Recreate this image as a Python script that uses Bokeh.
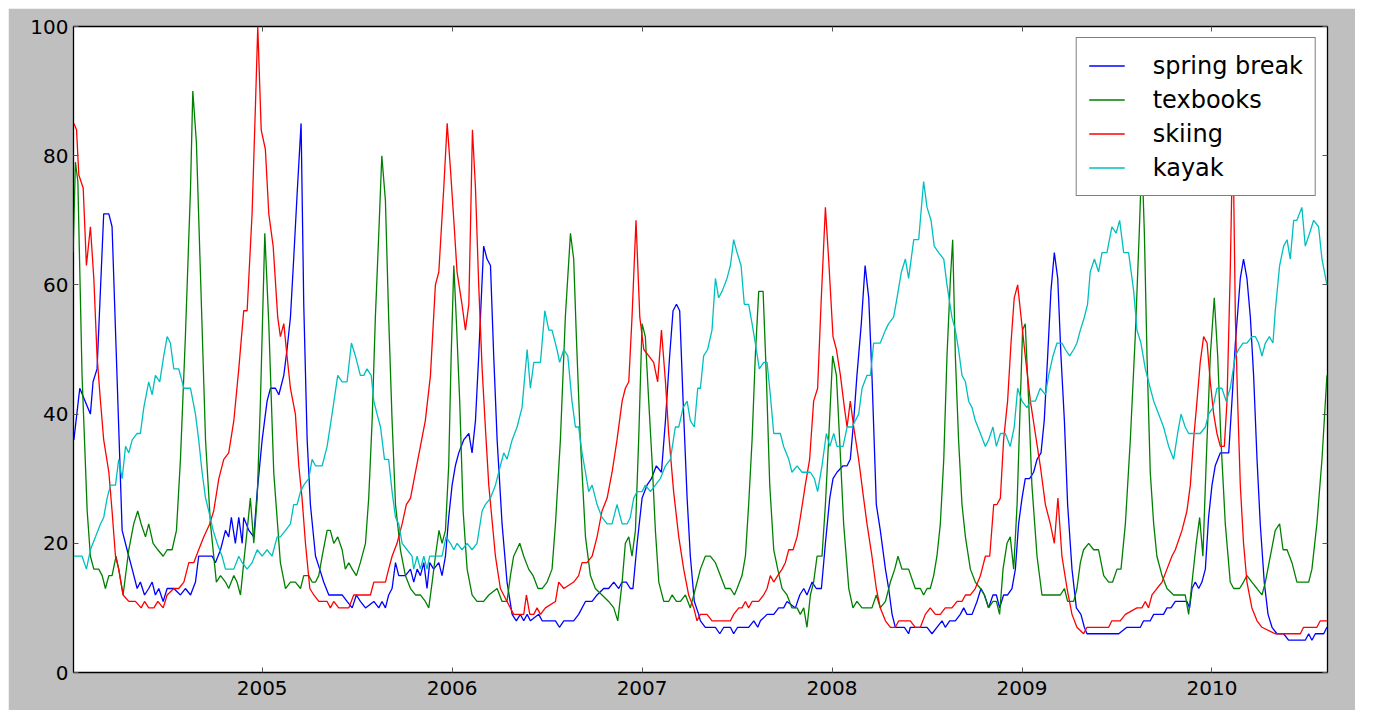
from bokeh.plotting import figure
from bokeh.models import FixedTicker, LinearAxis, Range1d
from bokeh.embed import file_html
from bokeh.resources import INLINE

# ---------------- data (decimal year, weekly search index) ----------------
spring_break_year = [2004.009, 2004.040, 2004.096, 2004.110, 2004.131, 2004.166, 2004.193, 2004.210, 2004.263, 2004.289,
    2004.316, 2004.342, 2004.359, 2004.381, 2004.403, 2004.421, 2004.438, 2004.456, 2004.479, 2004.500, 2004.535, 2004.570,
    2004.596, 2004.623, 2004.649, 2004.666, 2004.737, 2004.754, 2004.781, 2004.807, 2004.824, 2004.838, 2004.859, 2004.877,
    2004.895, 2004.903, 2004.930, 2004.956, 2004.974, 2005.000, 2005.026, 2005.044, 2005.070, 2005.088, 2005.114, 2005.131,
    2005.149, 2005.166, 2005.184, 2005.205, 2005.219, 2005.237, 2005.254, 2005.281, 2005.303, 2005.324, 2005.351, 2005.421,
    2005.447, 2005.474, 2005.496, 2005.517, 2005.544, 2005.588, 2005.614, 2005.631, 2005.649, 2005.666, 2005.684, 2005.702,
    2005.719, 2005.754, 2005.781, 2005.798, 2005.816, 2005.833, 2005.851, 2005.868, 2005.882, 2005.903, 2005.930, 2005.947,
    2005.965, 2005.982, 2006.000, 2006.017, 2006.035, 2006.061, 2006.088, 2006.105, 2006.123, 2006.140, 2006.166, 2006.184,
    2006.202, 2006.219, 2006.237, 2006.263, 2006.289, 2006.316, 2006.338, 2006.359, 2006.377, 2006.395, 2006.412, 2006.456,
    2006.474, 2006.544, 2006.565, 2006.588, 2006.640, 2006.666, 2006.702, 2006.737, 2006.763, 2006.798, 2006.824, 2006.851,
    2006.877, 2006.895, 2006.917, 2006.938, 2006.952, 2006.974, 2007.000, 2007.026, 2007.049, 2007.075, 2007.102, 2007.123,
    2007.145, 2007.163, 2007.181, 2007.198, 2007.216, 2007.237, 2007.254, 2007.275, 2007.298, 2007.307, 2007.333, 2007.386,
    2007.409, 2007.430, 2007.465, 2007.482, 2007.503, 2007.561, 2007.588, 2007.609, 2007.623, 2007.658, 2007.693, 2007.719,
    2007.745, 2007.763, 2007.807, 2007.830, 2007.851, 2007.868, 2007.895, 2007.917, 2007.944, 2007.965, 2007.988, 2008.005,
    2008.026, 2008.058, 2008.079, 2008.096, 2008.114, 2008.131, 2008.154, 2008.174, 2008.193, 2008.210, 2008.233, 2008.254,
    2008.281, 2008.298, 2008.316, 2008.333, 2008.381, 2008.403, 2008.412, 2008.500, 2008.526, 2008.552, 2008.579, 2008.596,
    2008.619, 2008.649, 2008.675, 2008.693, 2008.710, 2008.737, 2008.763, 2008.784, 2008.802, 2008.824, 2008.847, 2008.865,
    2008.882, 2008.903, 2008.924, 2008.947, 2008.965, 2008.982, 2009.000, 2009.017, 2009.040, 2009.061, 2009.079, 2009.100,
    2009.117, 2009.135, 2009.152, 2009.170, 2009.188, 2009.205, 2009.223, 2009.240, 2009.263, 2009.286, 2009.310, 2009.328,
    2009.342, 2009.509, 2009.552, 2009.623, 2009.640, 2009.675, 2009.693, 2009.745, 2009.763, 2009.784, 2009.807, 2009.868,
    2009.882, 2009.895, 2009.912, 2009.930, 2009.947, 2009.965, 2009.982, 2010.000, 2010.017, 2010.044, 2010.088, 2010.105,
    2010.123, 2010.149, 2010.166, 2010.184, 2010.202, 2010.219, 2010.237, 2010.254, 2010.275, 2010.295, 2010.316, 2010.342,
    2010.377, 2010.403, 2010.491, 2010.509, 2010.526, 2010.544, 2010.588, 2010.605]
spring_break = [36, 44, 40, 45, 47, 71, 71, 69, 22, 19,
    16, 13, 14, 12, 13, 14, 12, 13, 11, 13, 13, 12,
    13, 12, 14, 18, 18, 17, 19, 22, 21, 24, 20, 24,
    20, 24, 22, 21, 28, 36, 42, 44, 44, 43, 46, 50,
    55, 64, 74, 85, 57, 36, 26, 18, 16, 14, 12, 12,
    11, 10, 12, 11, 10, 11, 10, 11, 10, 12, 13, 17,
    15, 15, 16, 14, 16, 15, 17, 13, 17, 16, 17, 15,
    18, 24, 29, 32, 34, 36, 37, 34, 39, 49, 66, 64,
    63, 49, 36, 23, 14, 9, 8, 9, 8, 9, 8, 9,
    8, 8, 7, 8, 8, 9, 11, 11, 12, 13, 13, 14,
    13, 14, 14, 13, 13, 20, 27, 29, 30, 32, 31, 39,
    49, 56, 57, 56, 42, 27, 18, 11, 9, 8, 7, 7,
    6, 7, 7, 6, 7, 7, 8, 7, 8, 9, 9, 10,
    10, 11, 10, 12, 13, 12, 14, 13, 13, 20, 27, 30,
    31, 32, 32, 33, 39, 46, 54, 63, 58, 46, 26, 22,
    16, 13, 9, 7, 7, 6, 7, 7, 6, 7, 8, 7,
    8, 8, 9, 10, 9, 9, 11, 13, 12, 10, 12, 12,
    10, 12, 12, 13, 16, 23, 27, 30, 30, 31, 33, 34,
    39, 49, 59, 65, 61, 49, 39, 26, 16, 10, 9, 7,
    6, 6, 7, 7, 8, 8, 9, 9, 10, 10, 11, 11,
    10, 13, 14, 13, 14, 16, 24, 29, 32, 34, 34, 42,
    51, 61, 64, 61, 55, 46, 33, 23, 14, 9, 7, 6,
    6, 5, 5, 6, 5, 6, 6, 7]

texbooks_year = [2004.005, 2004.017, 2004.030, 2004.052, 2004.079, 2004.096, 2004.114, 2004.140, 2004.158, 2004.175,
    2004.193, 2004.210, 2004.231, 2004.245, 2004.268, 2004.298, 2004.324, 2004.345, 2004.363, 2004.386, 2004.403, 2004.426,
    2004.451, 2004.479, 2004.500, 2004.526, 2004.549, 2004.570, 2004.596, 2004.623, 2004.635, 2004.654, 2004.675, 2004.702,
    2004.728, 2004.759, 2004.781, 2004.807, 2004.824, 2004.851, 2004.868, 2004.886, 2004.903, 2004.921, 2004.938, 2004.956,
    2004.974, 2004.991, 2005.014, 2005.035, 2005.061, 2005.096, 2005.123, 2005.149, 2005.175, 2005.202, 2005.219, 2005.245,
    2005.263, 2005.281, 2005.298, 2005.316, 2005.342, 2005.359, 2005.377, 2005.398, 2005.421, 2005.438, 2005.456, 2005.474,
    2005.496, 2005.517, 2005.544, 2005.561, 2005.579, 2005.596, 2005.614, 2005.630, 2005.649, 2005.666, 2005.684, 2005.702,
    2005.728, 2005.754, 2005.781, 2005.807, 2005.833, 2005.859, 2005.877, 2005.895, 2005.912, 2005.931, 2005.947, 2005.965,
    2005.982, 2005.995, 2006.009, 2006.023, 2006.040, 2006.058, 2006.079, 2006.105, 2006.131, 2006.166, 2006.193, 2006.237,
    2006.263, 2006.289, 2006.307, 2006.324, 2006.356, 2006.377, 2006.403, 2006.426, 2006.452, 2006.474, 2006.500, 2006.526,
    2006.544, 2006.570, 2006.596, 2006.623, 2006.640, 2006.654, 2006.675, 2006.702, 2006.728, 2006.754, 2006.789, 2006.824,
    2006.851, 2006.872, 2006.895, 2006.912, 2006.930, 2006.947, 2006.965, 2006.982, 2007.000, 2007.017, 2007.035, 2007.052,
    2007.070, 2007.088, 2007.114, 2007.140, 2007.158, 2007.181, 2007.202, 2007.228, 2007.254, 2007.281, 2007.307, 2007.333,
    2007.359, 2007.386, 2007.412, 2007.438, 2007.465, 2007.486, 2007.500, 2007.526, 2007.544, 2007.561, 2007.579, 2007.596,
    2007.614, 2007.637, 2007.654, 2007.672, 2007.693, 2007.714, 2007.737, 2007.763, 2007.789, 2007.816, 2007.833, 2007.851,
    2007.868, 2007.886, 2007.903, 2007.921, 2007.947, 2007.965, 2007.982, 2008.003, 2008.023, 2008.040, 2008.061, 2008.088,
    2008.110, 2008.131, 2008.158, 2008.210, 2008.233, 2008.254, 2008.281, 2008.307, 2008.330, 2008.347, 2008.368, 2008.403,
    2008.438, 2008.465, 2008.482, 2008.500, 2008.517, 2008.535, 2008.552, 2008.570, 2008.588, 2008.605, 2008.623, 2008.635,
    2008.649, 2008.666, 2008.684, 2008.702, 2008.728, 2008.754, 2008.781, 2008.802, 2008.824, 2008.847, 2008.865, 2008.882,
    2008.900, 2008.921, 2008.938, 2008.956, 2008.974, 2008.991, 2009.003, 2009.017, 2009.035, 2009.052, 2009.079, 2009.105,
    2009.131, 2009.202, 2009.223, 2009.240, 2009.272, 2009.289, 2009.307, 2009.324, 2009.351, 2009.377, 2009.403, 2009.430,
    2009.456, 2009.477, 2009.500, 2009.521, 2009.544, 2009.570, 2009.596, 2009.617, 2009.631, 2009.644, 2009.658, 2009.675,
    2009.693, 2009.710, 2009.737, 2009.763, 2009.798, 2009.859, 2009.877, 2009.895, 2009.917, 2009.935, 2009.952, 2009.970,
    2009.991, 2010.012, 2010.030, 2010.047, 2010.070, 2010.096, 2010.114, 2010.131, 2010.145, 2010.166, 2010.184, 2010.210,
    2010.237, 2010.263, 2010.281, 2010.307, 2010.333, 2010.356, 2010.374, 2010.395, 2010.421, 2010.447, 2010.509, 2010.526,
    2010.552, 2010.579, 2010.605]
texbooks = [65, 79, 76, 46, 25, 18, 16, 16, 15, 13,
    15, 15, 18, 16, 12, 19, 23, 25, 23, 21, 23, 20,
    19, 18, 19, 19, 22, 33, 52, 75, 90, 82, 62, 36,
    23, 14, 15, 14, 13, 15, 14, 12, 17, 22, 27, 20,
    27, 42, 68, 54, 31, 17, 13, 14, 14, 13, 15, 15,
    14, 14, 15, 18, 22, 22, 20, 21, 19, 16, 17, 16,
    15, 17, 20, 27, 39, 55, 68, 80, 73, 55, 39, 26,
    19, 15, 13, 12, 12, 11, 10, 14, 18, 22, 20, 22,
    32, 49, 63, 54, 42, 25, 16, 12, 11, 11, 12, 13,
    11, 11, 15, 18, 20, 18, 16, 15, 13, 13, 14, 16,
    23, 36, 55, 68, 64, 52, 36, 21, 15, 13, 12, 11,
    10, 8, 14, 20, 21, 18, 22, 36, 54, 52, 42, 33,
    22, 14, 11, 11, 12, 11, 11, 12, 10, 13, 16, 18,
    18, 17, 15, 13, 13, 12, 13, 15, 18, 26, 36, 49,
    59, 59, 46, 29, 19, 16, 13, 12, 10, 10, 9, 10,
    7, 12, 14, 18, 18, 26, 36, 49, 46, 36, 23, 13,
    10, 11, 10, 10, 12, 10, 11, 14, 16, 18, 16, 16,
    13, 13, 12, 13, 13, 15, 18, 23, 33, 49, 61, 67,
    49, 36, 26, 21, 16, 14, 13, 12, 10, 11, 11, 9,
    16, 20, 21, 16, 26, 42, 53, 54, 42, 29, 18, 12,
    12, 12, 13, 11, 11, 13, 17, 19, 20, 19, 19, 15,
    14, 14, 16, 16, 23, 36, 52, 68, 80, 68, 49, 31,
    23, 18, 15, 13, 12, 12, 9, 14, 20, 24, 18, 33,
    49, 58, 49, 36, 23, 14, 13, 13, 13, 14, 15, 14,
    13, 12, 14, 18, 22, 23, 19, 19, 17, 14, 14, 16,
    23, 33, 46]

skiing_year = [2004.009, 2004.023, 2004.035, 2004.058, 2004.075, 2004.096, 2004.114, 2004.131, 2004.149, 2004.166,
    2004.193, 2004.210, 2004.228, 2004.245, 2004.268, 2004.298, 2004.333, 2004.363, 2004.381, 2004.403, 2004.430, 2004.451,
    2004.479, 2004.500, 2004.535, 2004.561, 2004.588, 2004.614, 2004.640, 2004.666, 2004.693, 2004.724, 2004.745, 2004.772,
    2004.798, 2004.824, 2004.851, 2004.877, 2004.903, 2004.921, 2004.947, 2004.965, 2004.977, 2004.995, 2005.017, 2005.035,
    2005.058, 2005.082, 2005.096, 2005.114, 2005.131, 2005.149, 2005.175, 2005.193, 2005.210, 2005.228, 2005.251, 2005.272,
    2005.298, 2005.342, 2005.359, 2005.377, 2005.403, 2005.456, 2005.482, 2005.544, 2005.570, 2005.588, 2005.649, 2005.666,
    2005.684, 2005.710, 2005.737, 2005.759, 2005.781, 2005.807, 2005.833, 2005.859, 2005.886, 2005.912, 2005.930, 2005.956,
    2005.974, 2005.991, 2006.009, 2006.026, 2006.052, 2006.070, 2006.088, 2006.096, 2006.107, 2006.123, 2006.140, 2006.158,
    2006.175, 2006.193, 2006.228, 2006.254, 2006.289, 2006.324, 2006.351, 2006.377, 2006.391, 2006.409, 2006.430, 2006.447,
    2006.465, 2006.491, 2006.544, 2006.561, 2006.588, 2006.640, 2006.666, 2006.684, 2006.710, 2006.737, 2006.763, 2006.789,
    2006.816, 2006.842, 2006.868, 2006.895, 2006.912, 2006.930, 2006.947, 2006.968, 2006.988, 2007.009, 2007.035, 2007.061,
    2007.082, 2007.102, 2007.123, 2007.140, 2007.166, 2007.193, 2007.219, 2007.245, 2007.272, 2007.289, 2007.307, 2007.342,
    2007.368, 2007.465, 2007.482, 2007.509, 2007.526, 2007.544, 2007.561, 2007.579, 2007.614, 2007.640, 2007.658, 2007.675,
    2007.693, 2007.714, 2007.737, 2007.754, 2007.772, 2007.795, 2007.816, 2007.833, 2007.859, 2007.882, 2007.903, 2007.924,
    2007.942, 2007.965, 2007.982, 2008.005, 2008.023, 2008.044, 2008.065, 2008.079, 2008.096, 2008.114, 2008.140, 2008.166,
    2008.184, 2008.210, 2008.233, 2008.254, 2008.281, 2008.307, 2008.333, 2008.351, 2008.412, 2008.438, 2008.465, 2008.491,
    2008.517, 2008.544, 2008.570, 2008.596, 2008.631, 2008.658, 2008.684, 2008.702, 2008.728, 2008.754, 2008.781, 2008.807,
    2008.830, 2008.851, 2008.868, 2008.886, 2008.903, 2008.924, 2008.942, 2008.959, 2008.977, 2008.995, 2009.017, 2009.044,
    2009.070, 2009.096, 2009.123, 2009.149, 2009.170, 2009.189, 2009.210, 2009.237, 2009.263, 2009.289, 2009.324, 2009.342,
    2009.456, 2009.473, 2009.517, 2009.544, 2009.605, 2009.631, 2009.649, 2009.666, 2009.684, 2009.710, 2009.737, 2009.763,
    2009.789, 2009.807, 2009.842, 2009.868, 2009.886, 2009.903, 2009.921, 2009.938, 2009.956, 2009.974, 2009.991, 2010.009,
    2010.026, 2010.044, 2010.065, 2010.079, 2010.096, 2010.110, 2010.123, 2010.135, 2010.149, 2010.166, 2010.184, 2010.210,
    2010.237, 2010.263, 2010.333, 2010.465, 2010.482, 2010.552, 2010.570, 2010.605]
skiing = [85, 84, 77, 75, 63, 69, 61, 49, 42, 36,
    31, 25, 18, 16, 12, 11, 11, 10, 11, 10, 10, 11,
    10, 12, 13, 13, 14, 17, 17, 19, 21, 23, 25, 30,
    33, 34, 39, 47, 56, 56, 71, 88, 100, 84, 81, 71,
    66, 55, 52, 54, 49, 44, 40, 32, 27, 20, 13, 12,
    11, 11, 10, 11, 10, 10, 12, 12, 12, 14, 14, 16,
    18, 20, 23, 26, 27, 31, 35, 39, 46, 60, 62, 75,
    85, 78, 70, 62, 57, 53, 57, 68, 84, 75, 60, 47,
    38, 29, 18, 13, 11, 9, 9, 9, 12, 9, 9, 10,
    9, 10, 11, 14, 13, 14, 15, 17, 17, 18, 21, 25,
    27, 31, 36, 42, 44, 45, 55, 70, 55, 50, 49, 48,
    45, 53, 45, 37, 28, 21, 16, 12, 10, 8, 9, 9,
    8, 8, 9, 10, 10, 11, 10, 11, 11, 12, 13, 15,
    14, 15, 16, 17, 19, 19, 21, 24, 29, 33, 42, 44,
    57, 72, 64, 52, 50, 46, 41, 38, 42, 38, 33, 27,
    23, 18, 13, 10, 8, 7, 7, 8, 8, 7, 7, 9,
    10, 9, 9, 10, 10, 11, 11, 12, 12, 13, 15, 18,
    18, 26, 26, 27, 36, 42, 51, 58, 60, 55, 49, 42,
    37, 32, 26, 23, 20, 27, 18, 13, 9, 7, 6, 7,
    7, 8, 8, 9, 10, 10, 11, 10, 12, 13, 14, 16,
    18, 19, 22, 25, 29, 36, 42, 48, 52, 51, 45, 40,
    37, 35, 35, 42, 62, 84, 55, 42, 29, 20, 14, 10,
    8, 7, 6, 6, 7, 7, 8, 8]

kayak_year = [2004.009, 2004.052, 2004.075, 2004.096, 2004.123, 2004.149, 2004.166, 2004.184, 2004.202, 2004.228,
    2004.245, 2004.263, 2004.281, 2004.298, 2004.316, 2004.342, 2004.359, 2004.377, 2004.403, 2004.421, 2004.438, 2004.461,
    2004.482, 2004.500, 2004.517, 2004.535, 2004.561, 2004.588, 2004.605, 2004.623, 2004.649, 2004.666, 2004.684, 2004.702,
    2004.719, 2004.742, 2004.763, 2004.789, 2004.807, 2004.851, 2004.877, 2004.895, 2004.921, 2004.947, 2004.974, 2005.000,
    2005.026, 2005.052, 2005.079, 2005.096, 2005.123, 2005.149, 2005.166, 2005.184, 2005.202, 2005.219, 2005.245, 2005.263,
    2005.281, 2005.316, 2005.342, 2005.368, 2005.398, 2005.421, 2005.447, 2005.470, 2005.491, 2005.517, 2005.535, 2005.552,
    2005.574, 2005.588, 2005.605, 2005.623, 2005.644, 2005.666, 2005.684, 2005.702, 2005.719, 2005.737, 2005.763, 2005.789,
    2005.798, 2005.816, 2005.833, 2005.851, 2005.868, 2005.882, 2005.921, 2005.947, 2005.968, 2005.991, 2006.009, 2006.026,
    2006.052, 2006.079, 2006.105, 2006.131, 2006.158, 2006.175, 2006.202, 2006.228, 2006.254, 2006.272, 2006.289, 2006.316,
    2006.342, 2006.368, 2006.395, 2006.412, 2006.430, 2006.465, 2006.488, 2006.509, 2006.526, 2006.552, 2006.566, 2006.588,
    2006.609, 2006.631, 2006.649, 2006.666, 2006.684, 2006.702, 2006.719, 2006.737, 2006.763, 2006.789, 2006.816, 2006.842,
    2006.868, 2006.895, 2006.921, 2006.938, 2006.956, 2006.974, 2007.000, 2007.017, 2007.044, 2007.070, 2007.096, 2007.123,
    2007.149, 2007.175, 2007.193, 2007.216, 2007.237, 2007.254, 2007.275, 2007.293, 2007.307, 2007.324, 2007.345, 2007.368,
    2007.386, 2007.403, 2007.421, 2007.447, 2007.465, 2007.482, 2007.500, 2007.521, 2007.538, 2007.561, 2007.579, 2007.596,
    2007.617, 2007.640, 2007.658, 2007.675, 2007.693, 2007.728, 2007.745, 2007.772, 2007.789, 2007.816, 2007.842, 2007.859,
    2007.886, 2007.907, 2007.924, 2007.947, 2007.970, 2007.988, 2008.009, 2008.026, 2008.058, 2008.079, 2008.105, 2008.123,
    2008.140, 2008.158, 2008.184, 2008.202, 2008.219, 2008.254, 2008.281, 2008.298, 2008.324, 2008.342, 2008.365, 2008.386,
    2008.403, 2008.430, 2008.456, 2008.482, 2008.500, 2008.521, 2008.538, 2008.561, 2008.588, 2008.605, 2008.631, 2008.649,
    2008.666, 2008.684, 2008.702, 2008.719, 2008.737, 2008.754, 2008.781, 2008.807, 2008.824, 2008.847, 2008.865, 2008.886,
    2008.912, 2008.938, 2008.959, 2008.977, 2009.000, 2009.026, 2009.044, 2009.070, 2009.096, 2009.123, 2009.140, 2009.163,
    2009.184, 2009.210, 2009.228, 2009.251, 2009.272, 2009.289, 2009.307, 2009.328, 2009.345, 2009.359, 2009.381, 2009.403,
    2009.421, 2009.447, 2009.473, 2009.495, 2009.514, 2009.535, 2009.561, 2009.588, 2009.605, 2009.626, 2009.649, 2009.675,
    2009.693, 2009.719, 2009.745, 2009.772, 2009.798, 2009.819, 2009.837, 2009.859, 2009.877, 2009.938, 2009.965, 2009.982,
    2010.005, 2010.026, 2010.052, 2010.075, 2010.096, 2010.123, 2010.140, 2010.163, 2010.184, 2010.210, 2010.228, 2010.245,
    2010.263, 2010.281, 2010.302, 2010.321, 2010.333, 2010.356, 2010.377, 2010.395, 2010.412, 2010.430, 2010.447, 2010.473,
    2010.491, 2010.514, 2010.535, 2010.561, 2010.579, 2010.605]
kayak = [18, 18, 16, 19, 21, 23, 24, 27, 29, 29,
    33, 30, 35, 34, 36, 37, 37, 41, 45, 43, 46, 45,
    49, 52, 51, 47, 47, 44, 44, 44, 40, 36, 31, 27,
    25, 22, 20, 18, 16, 16, 18, 17, 16, 17, 19, 18,
    19, 18, 21, 21, 22, 23, 26, 26, 28, 29, 30, 33,
    32, 32, 35, 40, 46, 45, 45, 51, 49, 46, 46, 47,
    46, 42, 40, 38, 33, 33, 28, 24, 23, 20, 19, 18,
    16, 18, 16, 18, 16, 18, 18, 18, 21, 20, 19, 20,
    19, 20, 19, 20, 25, 26, 27, 29, 32, 34, 33, 36,
    38, 41, 50, 44, 48, 48, 56, 53, 53, 50, 48, 50,
    49, 42, 38, 38, 34, 31, 28, 29, 26, 24, 23, 23,
    26, 23, 23, 24, 27, 28, 28, 29, 28, 29, 30, 32,
    33, 38, 38, 41, 42, 39, 38, 44, 44, 49, 50, 53,
    61, 58, 59, 61, 63, 67, 65, 63, 57, 57, 54, 51,
    47, 48, 48, 43, 37, 37, 35, 33, 31, 32, 31, 31,
    31, 30, 28, 32, 37, 35, 37, 35, 35, 38, 38, 39,
    40, 44, 46, 46, 51, 51, 53, 54, 55, 58, 62, 64,
    61, 67, 67, 76, 72, 70, 66, 65, 64, 60, 55, 53,
    50, 46, 45, 42, 41, 39, 37, 35, 36, 38, 35, 37,
    37, 35, 38, 44, 42, 41, 42, 42, 44, 43, 46, 49,
    51, 51, 50, 49, 50, 51, 53, 55, 57, 62, 64, 62,
    65, 65, 69, 68, 70, 65, 65, 59, 53, 51, 47, 44,
    42, 40, 38, 35, 33, 37, 40, 38, 37, 37, 38, 40,
    41, 44, 44, 42, 44, 49, 50, 51, 51, 52, 52, 51,
    49, 51, 52, 51, 56, 63, 66, 67, 64, 70, 70, 72,
    66, 68, 70, 69, 64, 60]

series_labels = ["spring break", "texbooks", "skiing", "kayak"]
series_colors = ["#0000ff", "#008000", "#ff0000", "#00bfbf"]
year_ticks = [2005, 2006, 2007, 2008, 2009, 2010]
value_ticks = [0, 20, 40, 60, 80, 100]

# ---------------- figure ----------------
FONT = "DejaVu Sans"
p = figure(width=1347, height=702, output_backend="svg", toolbar_location=None,
           x_range=Range1d(2004.007, 2010.608), y_range=Range1d(0, 100),
           min_border_left=65, min_border_right=28, min_border_top=18, min_border_bottom=38,
           background_fill_color="white", border_fill_color="#bfbfbf")
p.margin = (8, 0, 0, 8)
p.outline_line_color = "black"
p.outline_line_width = 1.3
p.grid.visible = False

series = [(spring_break_year, spring_break), (texbooks_year, texbooks),
          (skiing_year, skiing), (kayak_year, kayak)]
for (xs, ys), lab, col in zip(series, series_labels, series_colors):
    p.line(xs, ys, line_color=col, line_width=1.3, legend_label=lab)

def style_axis(ax, ticks, show_labels):
    ax.ticker = FixedTicker(ticks=ticks)
    ax.axis_line_color = None
    ax.major_tick_in = 5
    ax.major_tick_out = 0
    ax.major_tick_line_color = "#555555"
    ax.major_tick_line_width = 1
    ax.minor_tick_line_color = None
    if show_labels:
        ax.major_label_text_font = FONT
        ax.major_label_text_font_size = "20px"
        ax.major_label_text_color = "black"
    else:
        ax.major_label_text_font_size = "0px"
        ax.major_label_text_color = None
        ax.major_label_standoff = 0

xa = p.xaxis[0]
ya = p.yaxis[0]
style_axis(xa, year_ticks, True)
style_axis(ya, value_ticks, True)
xa.major_label_standoff = 8
ya.major_label_standoff = 5

top = LinearAxis()
right = LinearAxis()
style_axis(top, year_ticks, False)
style_axis(right, value_ticks, False)
p.add_layout(top, "above")
p.add_layout(right, "right")

lg = p.legend[0]
lg.location = "top_right"
lg.margin = 11
lg.border_line_color = "black"
lg.border_line_width = 1.3
lg.background_fill_color = "white"
lg.background_fill_alpha = 1
lg.label_text_font = FONT
lg.label_text_font_size = "24px"
lg.label_text_color = "black"
lg.glyph_width = 36
lg.glyph_height = 31
lg.label_height = 31
lg.spacing = 3
lg.padding = 12
lg.label_standoff = 28

open("out.html", "w").write(file_html(p, INLINE))
